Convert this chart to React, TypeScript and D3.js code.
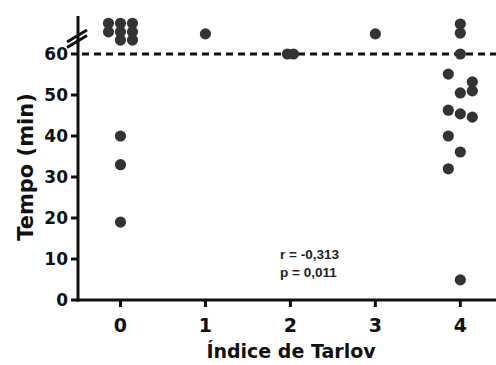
import React from 'react';
import * as d3 from 'd3';

// Índice de Tarlov vs Tempo (min); lane = column offset inside a group
const groups = [0, 1, 2, 3, 4];
const yTicks = [0, 10, 20, 30, 40, 50, 60];
const threshold = 60;

const tarlov = [0, 0, 0, 0, 0, 0, 0, 0, 0, 0, 0, 1, 2, 2, 3, 4, 4, 4, 4, 4, 4, 4, 4, 4, 4, 4, 4, 4, 4];
const tempo = [
  67.5, 65.4, 67.5, 65.4, 63.4, 67.5, 65.4, 63.4, 40, 33, 19,
  64.9, 60, 60, 64.9,
  67.3, 65.1, 60, 55.1, 53.2, 51, 50.5, 46.3, 45.4, 44.6, 40, 36.1, 32, 4.9,
];
const lane = [
  -1, -1, 0, 0, 0, 1, 1, 1, 0, 0, 0,
  0, -0.25, 0.25, 0,
  0, 0, 0, -1, 1, 1, 0, -1, 0, 1, -1, 0, -1, 0,
];

const stats = ['r = -0,313', 'p = 0,011'];

const W = 496;
const H = 365;
const left = 78;
const bottom = 300;
const top = 16;
const font = '"DejaVu Sans", Verdana, sans-serif';
const statFont = '"Liberation Sans", Arial, sans-serif';
const ink = '#111';
const dot = '#333';

export default function App() {
  const x = d3.scaleLinear().domain([-0.5, 4.42]).range([left, W]);
  const y = d3.scaleLinear().domain([0, 60]).range([bottom, 54]);
  const laneW = 12;

  return (
    <svg
      width={W}
      height={H}
      style={{ position: 'absolute', left: 0, top: 0, background: '#fff' }}
      fontFamily={font}
    >
      {/* dotted threshold */}
      <line
        x1={left + 4}
        x2={W}
        y1={y(threshold)}
        y2={y(threshold)}
        stroke={ink}
        strokeWidth={3}
        strokeDasharray="7 5"
      />

      {/* points */}
      {tempo.map((v, i) => (
        <circle
          key={i}
          cx={x(tarlov[i]) + lane[i] * laneW}
          cy={y(v)}
          r={5.6}
          fill={dot}
        />
      ))}

      {/* y axis */}
      <line x1={left} x2={left} y1={bottom + 1.5} y2={top} stroke={ink} strokeWidth={3} />
      {yTicks.map((t) => (
        <g key={t}>
          <line x1={left - 7} x2={left} y1={y(t)} y2={y(t)} stroke={ink} strokeWidth={3} />
          <text
            x={left - 10}
            y={y(t)}
            dy="0.36em"
            textAnchor="end"
            fontSize={17}
            fontWeight="bold"
            fill={ink}
          >
            {t}
          </text>
        </g>
      ))}
      {/* axis break marks */}
      <line x1={left - 11} y1={42} x2={left + 9} y2={30} stroke={ink} strokeWidth={3} />
      <line x1={left - 11} y1={47.5} x2={left + 9} y2={35.5} stroke={ink} strokeWidth={3} />

      {/* x axis */}
      <line x1={left - 1.5} x2={W} y1={bottom} y2={bottom} stroke={ink} strokeWidth={3} />
      {groups.map((g) => (
        <g key={g}>
          <line x1={x(g)} x2={x(g)} y1={bottom} y2={bottom + 7} stroke={ink} strokeWidth={3} />
          <text
            x={x(g)}
            y={332}
            textAnchor="middle"
            fontSize={19}
            fontWeight="bold"
            fill={ink}
          >
            {g}
          </text>
        </g>
      ))}

      {/* titles */}
      <text
        x={291}
        y={358}
        textAnchor="middle"
        fontSize={19}
        fontWeight="bold"
        fill={ink}
      >
        Índice de Tarlov
      </text>
      <text
        transform={`translate(33,${167}) rotate(-90)`}
        textAnchor="middle"
        fontSize={21}
        fontWeight="bold"
        fill={ink}
      >
        Tempo (min)
      </text>

      {/* correlation */}
      {stats.map((s, i) => (
        <text
          key={s}
          x={280}
          y={259 + i * 18}
          fontFamily={statFont}
          fontSize={13.5}
          fontWeight="bold"
          fill="#222"
        >
          {s}
        </text>
      ))}
    </svg>
  );
}
